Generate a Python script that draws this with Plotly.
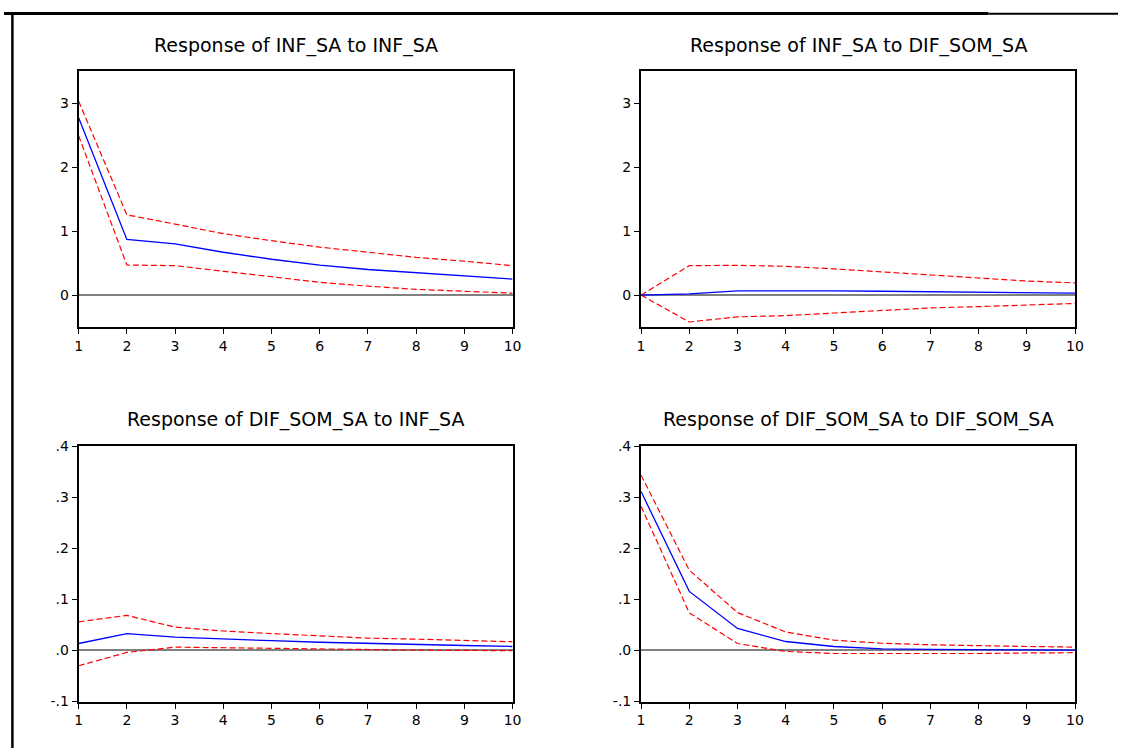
import plotly.graph_objects as go

# Horizon (periods) shared by every panel
periods = [1, 2, 3, 4, 5, 6, 7, 8, 9, 10]

# Response of INF_SA to INF_SA
inf_inf = [2.77, 0.87, 0.80, 0.67, 0.56, 0.47, 0.40, 0.35, 0.30, 0.25]
inf_inf_hi = [3.03, 1.255, 1.11, 0.96, 0.85, 0.75, 0.67, 0.59, 0.53, 0.46]
inf_inf_lo = [2.49, 0.47, 0.46, 0.37, 0.28, 0.20, 0.14, 0.09, 0.06, 0.03]

# Response of INF_SA to DIF_SOM_SA
inf_dif = [0.0, 0.02, 0.066, 0.07, 0.065, 0.06, 0.05, 0.045, 0.035, 0.03]
inf_dif_hi = [0.0, 0.46, 0.465, 0.45, 0.41, 0.36, 0.31, 0.26, 0.22, 0.19]
inf_dif_lo = [0.0, -0.42, -0.34, -0.32, -0.28, -0.245, -0.20, -0.18, -0.15, -0.13]

# Response of DIF_SOM_SA to INF_SA
dif_inf = [0.0135, 0.033, 0.026, 0.022, 0.019, 0.016, 0.0135, 0.011, 0.0096, 0.0077]
dif_inf_hi = [0.056, 0.0686, 0.0455, 0.038, 0.033, 0.029, 0.024, 0.022, 0.019, 0.017]
dif_inf_lo = [-0.030, -0.004, 0.0064, 0.005, 0.004, 0.003, 0.002, 0.0006, 0.0, -0.0006]

# Response of DIF_SOM_SA to DIF_SOM_SA
dif_dif = [0.311, 0.1155, 0.043, 0.0174, 0.0077, 0.003, 0.002, 0.0013, 0.0006, 0.0006]
dif_dif_hi = [0.343, 0.157, 0.074, 0.036, 0.020, 0.014, 0.011, 0.009, 0.0077, 0.0065]
dif_dif_lo = [0.282, 0.0735, 0.0135, -0.002, -0.006, -0.0065, -0.0065, -0.006, -0.005, -0.0045]

titles = [
    "Response of INF_SA to INF_SA",
    "Response of INF_SA to DIF_SOM_SA",
    "Response of DIF_SOM_SA to INF_SA",
    "Response of DIF_SOM_SA to DIF_SOM_SA",
]

# Y-axis ticks for the INF_SA row and the DIF_SOM_SA row
inf_ticks = [0, 1, 2, 3]
inf_ticklabels = ["0", "1", "2", "3"]
dif_ticks = [-0.1, 0.0, 0.1, 0.2, 0.3, 0.4]
dif_ticklabels = ["-.1", ".0", ".1", ".2", ".3", ".4"]
x_ticklabels = [str(p) for p in periods]

W, H = 1127, 756
FONT = "DejaVu Sans"

panels = [
    (inf_inf, inf_inf_hi, inf_inf_lo),
    (inf_dif, inf_dif_hi, inf_dif_lo),
    (dif_inf, dif_inf_hi, dif_inf_lo),
    (dif_dif, dif_dif_hi, dif_dif_lo),
]

# Plot-box pixel positions (left, right) per column and (top, bottom) per row
col_px = [(75.5, 514.5), (644.5, 1083.5)]
row_px = [(64.5, 326.0), (447.5, 708.5)]
title_y_px = [38, 420]

fig = go.Figure()
layout_axes = {}

for i, (resp, hi, lo) in enumerate(panels):
    r, c = divmod(i, 2)
    n = i + 1
    xa = "x" if n == 1 else f"x{n}"
    ya = "y" if n == 1 else f"y{n}"

    for band in (hi, lo):
        fig.add_trace(go.Scatter(
            x=periods, y=band, xaxis=xa, yaxis=ya, mode="lines",
            line=dict(color="#ff0000", width=1.2, dash="6px,3px"),
            showlegend=False, hoverinfo="skip", cliponaxis=False,
        ))
    fig.add_trace(go.Scatter(
        x=periods, y=resp, xaxis=xa, yaxis=ya, mode="lines",
        line=dict(color="#0000ff", width=1.3),
        showlegend=False, cliponaxis=False,
    ))

    x0, x1 = col_px[c]
    top, bot = row_px[r]
    if r == 0:
        yrange, tv, tt = [-0.5, 3.5], inf_ticks, inf_ticklabels
    else:
        yrange, tv, tt = [-0.1, 0.4], dif_ticks, dif_ticklabels

    axis_common = dict(
        showline=True, mirror=True, linecolor="#000000", linewidth=2,
        ticks="outside", ticklen=5, tickwidth=1, tickcolor="#000000",
        showgrid=False, fixedrange=True,
        tickfont=dict(family=FONT, size=14, color="#000000"),
    )
    layout_axes["xaxis" if n == 1 else f"xaxis{n}"] = dict(
        axis_common,
        domain=[x0 / W, x1 / W], anchor=ya, range=[1, 10],
        tickvals=periods, ticktext=x_ticklabels, zeroline=False,
    )
    layout_axes["yaxis" if n == 1 else f"yaxis{n}"] = dict(
        axis_common,
        domain=[1 - bot / H, 1 - top / H], anchor=xa, range=yrange,
        tickvals=tv, ticktext=tt,
        zeroline=True, zerolinecolor="#808080", zerolinewidth=2,
    )

    fig.add_annotation(
        text=titles[i], xref="paper", yref="paper",
        x=(x0 + x1) / 2 / W, y=1 - title_y_px[r] / H,
        xanchor="center", yanchor="middle", showarrow=False,
        font=dict(family=FONT, size=19, color="#000000"),
    )

# Page frame: heavy rule across the top and down the left side
fig.add_shape(type="line", xref="paper", yref="paper",
              x0=0, x1=996 / W, y0=1 - 5.5 / H, y1=1 - 5.5 / H,
              line=dict(color="#000000", width=3))
fig.add_shape(type="line", xref="paper", yref="paper",
              x0=996 / W, x1=1, y0=1 - 6 / H, y1=1 - 6 / H,
              line=dict(color="#000000", width=2))
fig.add_shape(type="line", xref="paper", yref="paper",
              x0=8.5 / W, x1=8.5 / W, y0=0, y1=1 - 4 / H,
              line=dict(color="#000000", width=2.5))

fig.update_layout(
    width=W, height=H,
    margin=dict(l=0, r=0, t=0, b=0),
    paper_bgcolor="#ffffff", plot_bgcolor="#ffffff",
    showlegend=False, dragmode=False, hovermode=False,
    **layout_axes,
)

fig.write_html("out.html", config={"staticPlot": True, "displayModeBar": False})
